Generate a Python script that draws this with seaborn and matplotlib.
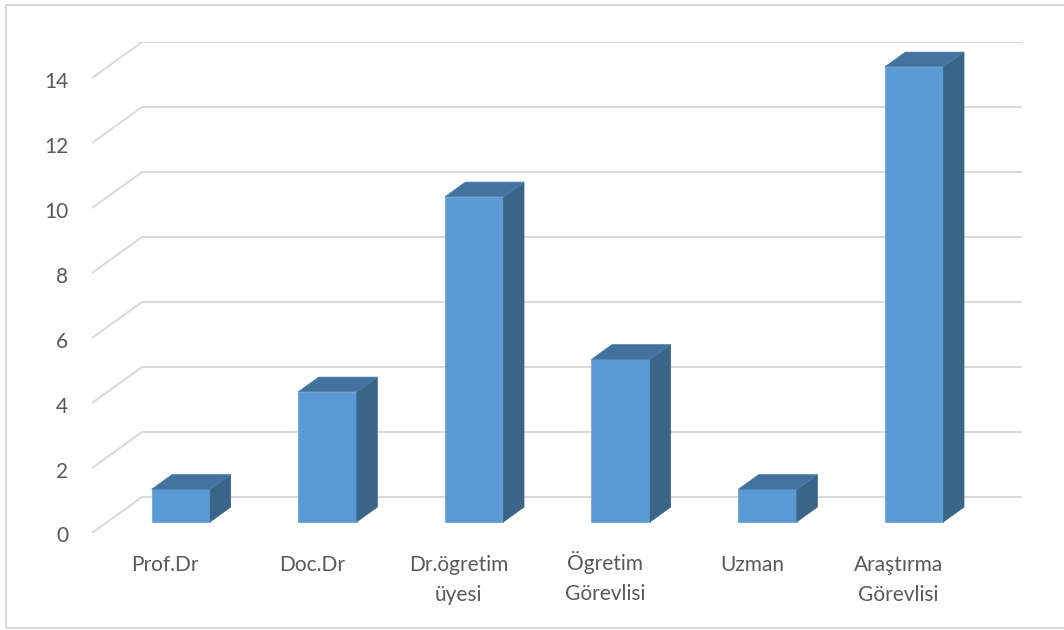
import numpy as np
import pandas as pd
import seaborn as sns
import matplotlib.pyplot as plt
from matplotlib.patches import Polygon, Rectangle
from matplotlib.transforms import ScaledTranslation

categories = ['Prof.Dr', 'Doc.Dr', 'Dr.ögretim\nüyesi', 'Ögretim\nGörevlisi',
              'Uzman', 'Araştırma\nGörevlisi']
values = [1, 4, 10, 5, 1, 14]
yticks = [0, 2, 4, 6, 8, 10, 12, 14]

front_col = '#5B9BD5'
top_col = '#43729F'
side_col = '#3A6488'
grid_col = '#D9D9D9'
text_col = '#595959'

sns.set_theme(style='white')
plt.rcParams['font.family'] = ['Lato', 'DejaVu Sans']

# depth of the fake 3d box, in data units (category, value)
depth = np.array([0.341, 1.108])
f0, f1 = 0.31, 0.72          # bar front / back as a share of the depth
wall_front = -f0 * depth
wall_back = (1 - f0) * depth
bar_back = (f1 - f0) * depth

fig = plt.figure(figsize=(10.64, 6.30), dpi=100)
ax = fig.add_axes([92 / 1064, 97 / 630, 930 / 1064, 491 / 630])

df = pd.DataFrame({'cat': categories, 'val': values})
sns.barplot(data=df, x='cat', y='val', color=front_col, width=0.4,
            saturation=1, ax=ax, zorder=3, edgecolor='#6EA6D8', linewidth=0.6)

n = len(categories)
# grid: slanted wall lines and back lines
for v in yticks:
    xs = [-0.5 + wall_front[0], -0.5 + wall_back[0], n - 0.5 + wall_back[0]]
    ys = [v + wall_front[1], v + wall_back[1], v + wall_back[1]]
    ax.plot(xs, ys, color=grid_col, lw=1.4, zorder=1, solid_capstyle='butt')

# tops and sides of the bars
for p in ax.patches[:]:
    L, w, h = p.get_x(), p.get_width(), p.get_height()
    R = L + w
    dx, dy = bar_back
    side = Polygon([(R, 0), (R, h), (R + dx, h + dy), (R + dx, dy)],
                   closed=True, facecolor=side_col, edgecolor=side_col,
                   lw=0.5, zorder=3)
    top = Polygon([(L, h), (R, h), (R + dx, h + dy), (L + dx, h + dy)],
                  closed=True, facecolor=top_col, edgecolor='#4F7FAE',
                  lw=0.5, zorder=3)
    ax.add_patch(side)
    ax.add_patch(top)

ax.set_xlim(-0.5 + wall_front[0], n - 0.5 + wall_back[0])
ax.set_ylim(wall_front[1], 14 + wall_back[1])

ax.set_xticks(np.arange(n) + wall_front[0], labels=categories)
ax.set_yticks(np.array(yticks) + wall_front[1], labels=[str(t) for t in yticks])
ax.tick_params(axis='x', length=0, pad=15.5, labelsize=15, labelcolor=text_col)
ax.tick_params(axis='y', length=0, pad=17, labelsize=15, labelcolor=text_col)
for lab in ax.get_xticklabels():
    lab.set_linespacing(1.65)
    lab.set_verticalalignment('top')
    if lab.get_text().startswith('Ö'):
        # keep the first line on the same baseline as the others
        lab.set_transform(lab.get_transform()
                          + ScaledTranslation(0, 0.035, fig.dpi_scale_trans))
for lab in ax.get_yticklabels():
    lab.set_transform(lab.get_transform()
                      + ScaledTranslation(0, -0.015, fig.dpi_scale_trans))

ax.set_xlabel('')
ax.set_ylabel('')
sns.despine(ax=ax, left=True, bottom=True)
ax.grid(False)

fig.patches.append(Rectangle((6 / 1064, 2 / 630), 1.1, 623 / 630,
                             transform=fig.transFigure, fill=False,
                             edgecolor='#D9D9D9', lw=1.5))

fig.savefig('out.png', dpi=100)
